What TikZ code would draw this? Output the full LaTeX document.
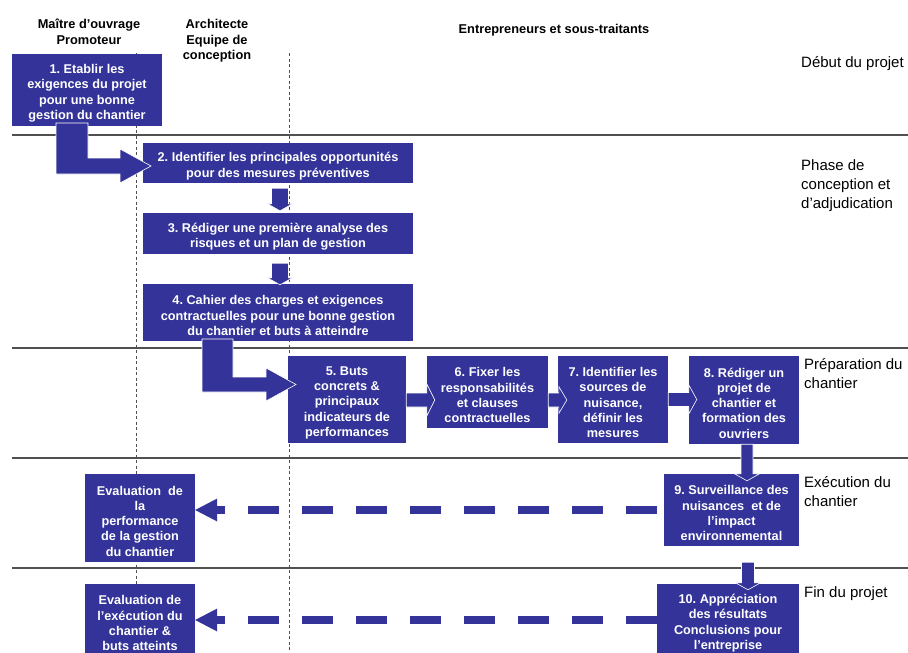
\documentclass[tikz,border=0pt]{standalone}
\usepackage{fontspec}
\setmainfont{Liberation Sans}
\usetikzlibrary{calc,arrows.meta}
\definecolor{boxblue}{RGB}{51,51,153}
\definecolor{rulegray}{RGB}{80,80,80}
\frenchspacing

% taller first line, so that the text of a step sits a little low in its box
\newcommand\stepstrut{\rule{0pt}{15.5pt}}

% vertical block arrow: source, target, x centre, gap below source,
% overlap into target, shaft half width, head half width (head length 7)
\newcommand\vblock[7]{%
  \draw[blockarrow] let \p1=(#1.south), \p2=(#2.north) in
    ({#3pt-#6pt},{\y1-#4pt}) -- ({#3pt+#6pt},{\y1-#4pt})
    -- ({#3pt+#6pt},{\y2+7pt-#5pt}) -- ({#3pt+#7pt},{\y2+7pt-#5pt})
    -- (#3pt,{\y2-#5pt})
    -- ({#3pt-#7pt},{\y2+7pt-#5pt}) -- ({#3pt-#6pt},{\y2+7pt-#5pt}) -- cycle;}

% horizontal block arrow: source, target, y centre (downwards), gap after source,
% overlap into target, shaft half width, head half width (head length 8)
\newcommand\hblock[7]{%
  \draw[blockarrow] let \p1=(#1.east), \p2=(#2.west) in
    ({\x1+#4pt},{-#3pt+#6pt}) -- ({\x2+#5pt-8pt},{-#3pt+#6pt})
    -- ({\x2+#5pt-8pt},{-#3pt+#7pt}) -- ({\x2+#5pt},{-#3pt})
    -- ({\x2+#5pt-8pt},{-#3pt-#7pt}) -- ({\x2+#5pt-8pt},{-#3pt-#6pt})
    -- ({\x1+#4pt},{-#3pt-#6pt}) -- cycle;}

\begin{document}
\begin{tikzpicture}[x=1pt,y=-1pt,
  stepbox/.style={fill=boxblue, text=white,
    font=\bfseries\fontsize{12.7}{15.3}\selectfont,
    align=center, inner sep=0pt},
  lanehead/.style={font=\bfseries\fontsize{12.8}{15.5}\selectfont,
    align=center, inner sep=0pt},
  phaselabel/.style={font=\fontsize{15}{19}\selectfont,
    align=left, inner sep=0pt, anchor=west},
  phaseline/.style={draw=rulegray, line width=1.3pt},
  laneline/.style={draw=rulegray, line width=1pt, dash pattern=on 3pt off 2.5pt},
  blockarrow/.style={fill=boxblue, draw=white, line width=0.6pt, line join=miter},
  feedback/.style={draw=boxblue, line width=8pt, line cap=butt,
    dash pattern=on 31pt off 23pt,
    -{Triangle[length=22pt,width=23pt,line width=0pt]}}
]
\clip (0,0) rectangle (908,653);
\fill[white] (0,0) rectangle (908,653);

% phase separators and lane separators
\draw[phaseline] (12,135) -- (908,135);
\draw[phaseline] (12,348) -- (908,348);
\draw[phaseline] (12,458) -- (908,458);
\draw[phaseline] (12,568) -- (908,568);
\draw[laneline] (136,53) -- (136,653);
\draw[laneline] (289,53) -- (289,653);

% lane headings
\node[lanehead] (h1) at (89,31.75) {Maître d’ouvrage\\Promoteur};
\node[lanehead] (h2) at (217,40.75) {Architecte\\Equipe de\\conception};
\node[lanehead, anchor=base] (h3) at (554,34) {Entrepreneurs et sous-traitants};

% phase labels
\node[phaselabel, anchor=base west] (p1) at (801,67) {Début du projet};
\node[phaselabel] (p2) at (801,186) {Phase de\\conception et\\d’adjudication};
\node[phaselabel] (p3) at (804,374) {Préparation du\\chantier};
\node[phaselabel] (p4) at (804,491.5) {Exécution du\\chantier};
\node[phaselabel, anchor=base west] (p5) at (804,597) {Fin du projet};

% process steps
\node[stepbox, minimum width=150pt, minimum height=72pt] (b1) at (87,90)
  {\stepstrut 1. Etablir les\\exigences du projet\\pour une bonne\\gestion du chantier};
\node[stepbox, minimum width=270pt, minimum height=40pt] (b2) at (278,163)
  {\stepstrut 2. Identifier les principales opportunités\\pour des mesures préventives};
\node[stepbox, minimum width=270pt, minimum height=41pt] (b3) at (278,233.5)
  {\stepstrut 3. Rédiger une première analyse des\\risques et un plan de gestion};
\node[stepbox, minimum width=270pt, minimum height=57pt] (b4) at (278,312.5)
  {\stepstrut 4. Cahier des charges et exigences\\contractuelles pour une bonne gestion\\du chantier et buts à atteindre};
\node[stepbox, minimum width=118pt, minimum height=87pt] (b5) at (347,399.5)
  {\stepstrut 5. Buts\\concrets \&\\principaux\\indicateurs de\\performances};
\node[stepbox, minimum width=121pt, minimum height=72pt] (b6) at (487.5,392)
  {\stepstrut 6. Fixer les\\responsabilités\\et clauses\\contractuelles};
\node[stepbox, minimum width=110pt, minimum height=87pt] (b7) at (613,399.5)
  {\stepstrut 7. Identifier les\\sources de\\nuisance,\\définir les\\mesures};
\node[stepbox, minimum width=110pt, minimum height=88pt] (b8) at (744,400)
  {\stepstrut 8. Rédiger un\\projet de\\chantier et\\formation des\\ouvriers};
\node[stepbox, minimum width=135pt, minimum height=72pt] (b9) at (731.5,510)
  {\stepstrut 9. Surveillance des\\nuisances~~et de\\l’impact\\environnemental};
\node[stepbox, minimum width=142pt, minimum height=72pt] (b10) at (728,620)
  {\stepstrut 10. Appréciation\\des résultats\\Conclusions pour\\l’entreprise};
\node[stepbox, minimum width=110pt, minimum height=88pt] (e1) at (140,518)
  {\stepstrut Evaluation~~de\\la\\performance\\de la gestion\\du chantier};
\node[stepbox, minimum width=110pt, minimum height=72pt] (e2) at (140,620)
  {\stepstrut Evaluation de\\l’exécution du\\chantier \&\\buts atteints};

% bent arrows between phases
\draw[blockarrow] (56,123) -- (88,123) -- (88,158) -- (120,158) -- (120,149)
  -- (151,166) -- (120,183) -- (120,174) -- (56,174) -- cycle;
\draw[blockarrow] (202,339) -- (233,339) -- (233,377) -- (266,377) -- (266,368)
  -- (296,384.5) -- (266,401) -- (266,392) -- (202,392) -- cycle;

% straight arrows
\vblock{b2}{b3}{280}{5}{-2}{8.5}{12.5}
\vblock{b3}{b4}{280}{9}{1}{8.5}{12.5}
\vblock{b8}{b9}{747}{0}{7}{6}{12.5}
\vblock{b9}{b10}{748}{16}{6}{6.5}{12.5}
\hblock{b5}{b6}{400}{0}{8}{7}{16}
\hblock{b6}{b7}{400}{0}{9}{7}{13.5}
\hblock{b7}{b8}{399.5}{0}{8}{7}{14.5}

% feedback to the client
\draw[feedback] ([xshift=-7pt]b9.west) -- (e1.east |- b9.west);
\draw[feedback] (b10.west) -- (e2.east);
\end{tikzpicture}
\end{document}
